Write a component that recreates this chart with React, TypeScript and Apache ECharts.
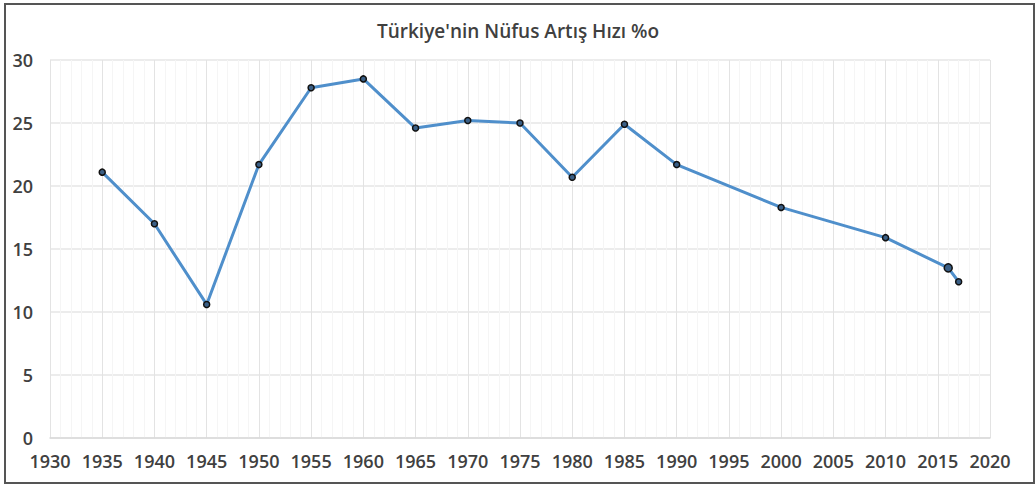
import React, { useEffect, useRef } from "react";
import * as echarts from "echarts";

const titleText = "Türkiye'nin Nüfus Artış Hızı %o";
const years = [1935, 1940, 1945, 1950, 1955, 1960, 1965, 1970, 1975, 1980, 1985, 1990, 2000, 2010, 2016, 2017];
const rates = [21.1, 17.0, 10.6, 21.7, 27.8, 28.5, 24.6, 25.2, 25.0, 20.7, 24.9, 21.7, 18.3, 15.9, 13.5, 12.4];

export default function App() {
  const ref = useRef<HTMLDivElement>(null);
  useEffect(() => {
    if (!ref.current) return;
    const chart = echarts.init(ref.current, null, { renderer: "svg" });
    const font = "'Open Sans', sans-serif";
    chart.setOption({
      animation: false,
      backgroundColor: "#ffffff",
      title: {
        text: titleText,
        left: "center",
        top: 16,
        textStyle: { fontFamily: font, fontSize: 19, fontWeight: 600, color: "#404040" },
      },
      graphic: [
        {
          type: "rect",
          shape: { x: 5, y: 4, width: 1029, height: 479 },
          style: { fill: "none", stroke: "#555555", lineWidth: 2 },
          silent: true,
        },
      ],
      grid: { left: 50, right: 46, top: 60, bottom: 50 },
      xAxis: {
        type: "value",
        min: 1930,
        max: 2020,
        interval: 5,
        axisLine: { show: true, lineStyle: { color: "#d9d9d9", width: 1.5 } },
        axisTick: { show: false },
        axisLabel: {
          fontFamily: font,
          fontSize: 18,
          fontWeight: 600,
          color: "#404040",
          margin: 14,
          formatter: (v: number) => String(v),
        },
        splitLine: { show: true, lineStyle: { color: "#e3e3e3", width: 1 } },
        minorTick: { show: false, splitNumber: 5 },
        minorSplitLine: { show: true, lineStyle: { color: "#f5f5f5", width: 1 } },
      },
      yAxis: {
        type: "value",
        min: 0,
        max: 30,
        interval: 5,
        axisLine: { show: false },
        axisTick: { show: false },
        axisLabel: { fontFamily: font, fontSize: 18, fontWeight: 600, color: "#404040", margin: 17 },
        splitLine: { show: true, lineStyle: { color: "#e6e6e6", width: 1.5 } },
      },
      series: [
        {
          type: "line",
          data: years.map((y, i) => ({
            value: [y, rates[i]],
            symbolSize: y === 2016 ? 8 : 6,
          })),
          symbol: "circle",
          lineStyle: { color: "#4f8fcb", width: 3 },
          itemStyle: { color: "#3a5f86", borderColor: "#111111", borderWidth: 1.5 },
        },
      ],
    });
    return () => chart.dispose();
  }, []);
  return (
    <div
      ref={ref}
      style={{ position: "fixed", left: 0, top: 0, width: 1036, height: 488 }}
    />
  );
}
